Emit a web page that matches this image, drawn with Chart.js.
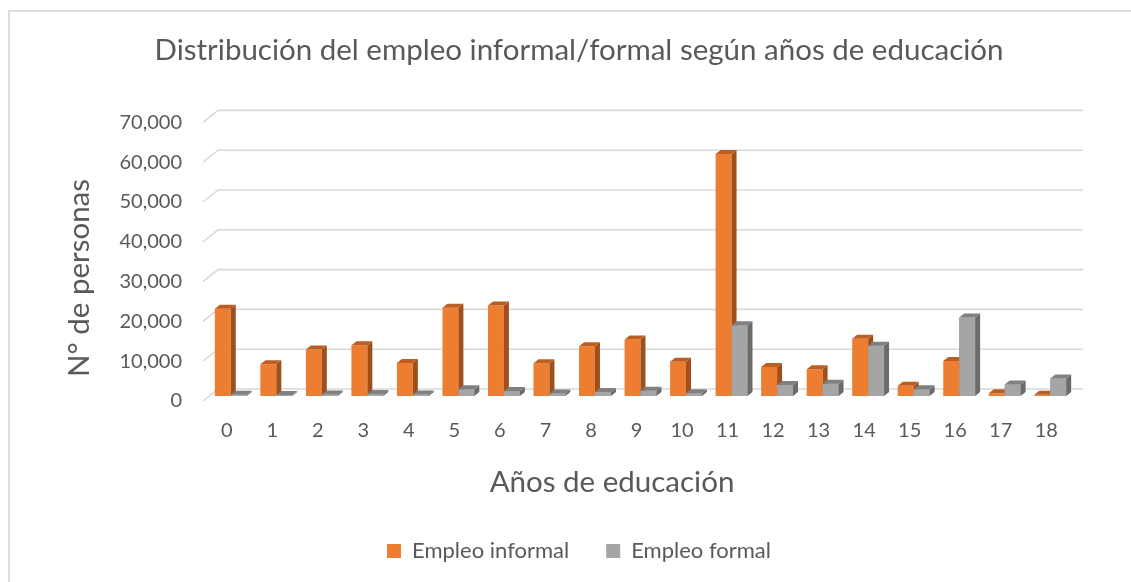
<!DOCTYPE html>
<html>
<head>
<meta charset="utf-8">
<script src="https://cdn.jsdelivr.net/npm/chart.js@4.4.1/dist/chart.umd.min.js"></script>
<style>
  html, body { margin: 0; padding: 0; background: #ffffff; overflow: hidden; }
  #frame { position: absolute; left: 8px; top: 10px; width: 1300px; height: 700px; border: 2px solid #dcdcdc; box-sizing: border-box; }
  #c { position: absolute; left: 0; top: 0; }
</style>
</head>
<body>
<div id="frame"></div>
<canvas id="c" width="1131" height="582"></canvas>
<script>
const categories = ['0','1','2','3','4','5','6','7','8','9','10','11','12','13','14','15','16','17','18'];
const empleoInformal = [21900, 8000, 11700, 12750, 8300, 22200, 22750, 8200, 12500, 14200, 8600, 60800, 7300, 6700, 14400, 2600, 8800, 700, 300];
const empleoFormal   = [300, 250, 350, 500, 350, 1700, 1250, 600, 1000, 1300, 700, 17750, 2750, 3100, 12600, 1700, 19700, 2900, 4400];
const yTickValues = [0, 10000, 20000, 30000, 40000, 50000, 60000, 70000];
const xAxisTitle = 'Años de educación';
const yAxisTitle = 'N° de personas';

const FONT = 'Lato';
const TEXT = '#595959';
const GRID = '#d9d9d9';
const DEPTH_X = 5, DEPTH_Y = -4;
const faceColors = [
  { side: '#9E501C', top: '#BD5E21' },
  { side: '#6B6B6B', top: '#808080' }
];

const threeD = {
  id: 'threeD',
  beforeDatasetsDraw(chart) {
    const ctx = chart.ctx;
    const ys = chart.scales.y;
    const area = chart.chartArea;
    ctx.save();
    ctx.strokeStyle = GRID;
    ctx.lineWidth = 1.6;
    ys.ticks.forEach(t => {
      const yb = ys.getPixelForValue(t.value);
      ctx.beginPath();
      ctx.moveTo(area.left - 5, yb + 5);
      ctx.lineTo(area.left + 10, yb - 7);
      ctx.lineTo(area.right + 10, yb - 7);
      ctx.stroke();
    });
    ctx.restore();
  },
  afterDatasetsDraw(chart) {
    const ctx = chart.ctx;
    const metas = [chart.getDatasetMeta(0), chart.getDatasetMeta(1)];
    const n = metas[0].data.length;
    ctx.save();
    for (let i = 0; i < n; i++) {
      metas.forEach((meta, d) => {
        const el = meta.data[i];
        const p = el.getProps(['x', 'y', 'base', 'width'], true);
        const l = p.x - p.width / 2, r = p.x + p.width / 2;
        const top = Math.min(p.y, p.base), bot = Math.max(p.y, p.base);
        if (d === 1) {
          ctx.fillStyle = chart.data.datasets[1].backgroundColor;
          ctx.fillRect(l, top, r - l, bot - top);
        }
        ctx.fillStyle = faceColors[d].side;
        ctx.beginPath();
        ctx.moveTo(r, bot);
        ctx.lineTo(r + DEPTH_X, bot + DEPTH_Y);
        ctx.lineTo(r + DEPTH_X, top + DEPTH_Y);
        ctx.lineTo(r, top);
        ctx.closePath();
        ctx.fill();
        ctx.fillStyle = faceColors[d].top;
        ctx.beginPath();
        ctx.moveTo(l, top);
        ctx.lineTo(r, top);
        ctx.lineTo(r + DEPTH_X, top + DEPTH_Y);
        ctx.lineTo(l + DEPTH_X, top + DEPTH_Y);
        ctx.closePath();
        ctx.fill();
      });
    }
    ctx.restore();
  },
  afterDraw(chart) {
    const ctx = chart.ctx;
    ctx.save();
    ctx.fillStyle = TEXT;
    ctx.textAlign = 'center';
    ctx.textBaseline = 'middle';
    ctx.font = '29.5px ' + FONT;
    ctx.fillText(xAxisTitle, 612, 482);
    ctx.translate(79, 278);
    ctx.rotate(-Math.PI / 2);
    ctx.fillText(yAxisTitle, 0, 0);
    ctx.restore();
  }
};

new Chart(document.getElementById('c'), {
  type: 'bar',
  data: {
    labels: categories,
    datasets: [
      { label: 'Empleo informal', data: empleoInformal, backgroundColor: '#ED7D31', borderWidth: 0 },
      { label: 'Empleo formal', data: empleoFormal, backgroundColor: '#A5A5A5', borderWidth: 0 }
    ]
  },
  options: {
    responsive: false,
    animation: false,
    devicePixelRatio: 1,
    layout: { padding: { left: 85, right: 58, top: 0, bottom: 10 } },
    datasets: { bar: { categoryPercentage: 0.70, barPercentage: 1.0 } },
    plugins: {
      tooltip: { enabled: false },
      title: {
        display: true,
        text: 'Distribución del empleo informal/formal según años de educación',
        color: TEXT,
        font: { family: FONT, size: 29.5, weight: 'normal' },
        padding: { top: 32.3, bottom: 49.7 }
      },
      legend: {
        position: 'bottom',
        labels: {
          color: TEXT,
          boxWidth: 14,
          boxHeight: 14,
          padding: 37,
          font: { family: FONT, size: 22 }
        }
      }
    },
    scales: {
      x: {
        grid: { display: false, drawTicks: false },
        border: { display: false },
        ticks: { color: TEXT, font: { family: FONT, size: 20 }, padding: 23, labelOffset: -4, maxRotation: 0 },
        afterFit(scale) { scale.height = 107; }
      },
      y: {
        min: 0,
        max: 70000,
        grid: { display: false, drawTicks: false },
        border: { display: false },
        afterBuildTicks(scale) { scale.ticks = yTickValues.map(v => ({ value: v })); },
        ticks: {
          color: TEXT,
          font: { family: FONT, size: 20 },
          padding: 26,
          labelOffset: 5,
          callback: v => v.toLocaleString('en-US')
        },
        afterFit(scale) { scale.width = 123; }
      }
    }
  },
  plugins: [threeD]
});
</script>
</body>
</html>
